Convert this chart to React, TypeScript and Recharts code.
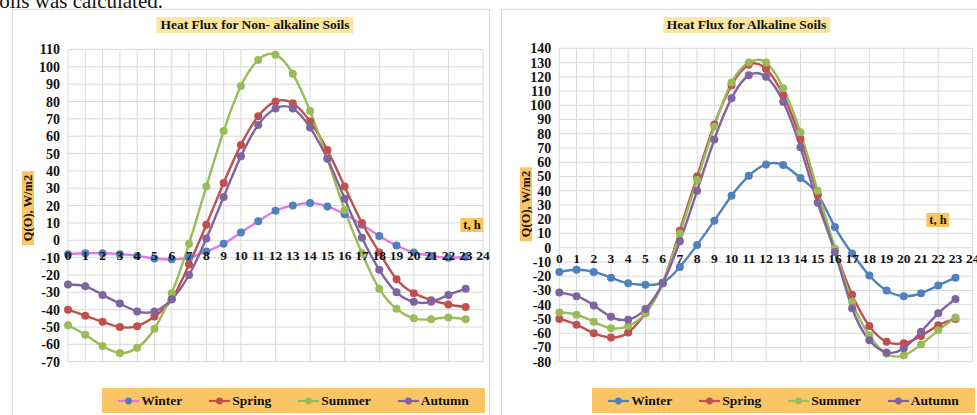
import React from 'react';
import { LineChart, Line, XAxis, YAxis, CartesianGrid, ReferenceDot } from 'recharts';

// ---------- data ----------
const hours = [0, 1, 2, 3, 4, 5, 6, 7, 8, 9, 10, 11, 12, 13, 14, 15, 16, 17, 18, 19, 20, 21, 22, 23];
const hourTicks = [0, 1, 2, 3, 4, 5, 6, 7, 8, 9, 10, 11, 12, 13, 14, 15, 16, 17, 18, 19, 20, 21, 22, 23, 24];
const seriesNames = ['Winter', 'Spring', 'Summer', 'Autumn'];

const nonAlkWinter = [-8, -7.5, -7.5, -8, -9, -10.5, -11, -10, -6.5, -2, 4.5, 11, 17, 20, 21.5, 19.5, 15, 9, 2.5, -3, -7, -9, -10, -9.5];
const nonAlkSpring = [-40, -43.5, -47, -50, -49.5, -44, -34, -14, 9, 33, 55, 71.5, 80, 79, 68.5, 52, 31, 10, -7, -22.5, -30.5, -34.5, -37, -38.5];
const nonAlkSummer = [-49, -54.5, -61, -65, -62, -51, -30.5, -2, 31, 63, 89, 104, 107, 96, 74.5, 47, 17.5, -7.5, -28, -39.5, -45, -45.5, -44.5, -45.5];
const nonAlkAutumn = [-25.5, -26.5, -31.5, -36.5, -41, -41, -34, -20, 1, 25, 48.5, 66.5, 76, 76, 65, 47, 24, 1.5, -17, -30, -35.5, -35.5, -31.5, -28];

const alkWinter = [-17, -15.5, -17, -21, -25, -26, -24.5, -13.5, 2, 19, 36.5, 50.5, 58.5, 58, 49, 37.5, 14.5, -4, -19.5, -30, -34, -32, -26.5, -21];
const alkSpring = [-50, -54, -60, -63, -59.5, -46, -25, 12, 50, 86.5, 114, 128.5, 125.5, 107, 76.5, 37, -1, -33, -55, -66, -67, -62, -54.5, -50];
const alkSummer = [-45.5, -47, -52, -56.5, -55, -46, -25, 10, 47.5, 85, 116, 130, 130, 112, 81, 40, -0.5, -38, -61.5, -74.5, -75.5, -68, -58, -49];
const alkAutumn = [-31.5, -34, -40.5, -48.5, -50.5, -43, -25, 4.5, 40, 76, 105, 121, 120, 102.5, 70.5, 31.5, -3, -42.5, -65, -73.5, -70.5, -59, -46, -36];

const nonAlkTicks = [-70, -60, -50, -40, -30, -20, -10, 0, 10, 20, 30, 40, 50, 60, 70, 80, 90, 100, 110];
const alkTicks = [-80, -70, -60, -50, -40, -30, -20, -10, 0, 10, 20, 30, 40, 50, 60, 70, 80, 90, 100, 110, 120, 130, 140];

// ---------- styles ----------
const BLUE = '#4f81bd';
const RED = '#c0504d';
const GREEN = '#9bbb59';
const PURPLE = '#8064a2';
const PINK = '#e377e3';
const FONT = '"Liberation Serif", "Times New Roman", serif';
const LEGEND_BG = '#fac564';
const TITLE_BG = '#fde6a0';

const buildData = (w: number[], sp: number[], su: number[], au: number[]) =>
  hours.map((h, i) => ({ hour: h, Winter: w[i], Spring: sp[i], Summer: su[i], Autumn: au[i] }));

const nonAlkData = buildData(nonAlkWinter, nonAlkSpring, nonAlkSummer, nonAlkAutumn);
const alkData = buildData(alkWinter, alkSpring, alkSummer, alkAutumn);

type ChartProps = {
  data: any[];
  ticks: number[];
  left: number;
  width: number;
  margin: { top: number; right: number; bottom: number; left: number };
  lineColors: string[];
  markerColors: string[];
  hourLabelDy: number;
};

const HourLabel = (dy: number, text: string) => (props: any) => {
  const vb = props.viewBox || {};
  const x = (vb.x ?? 0) + (vb.width ?? 0) / 2;
  const y = (vb.y ?? 0) + (vb.height ?? 0) + dy;
  return (
    <text x={x} y={y} textAnchor="middle" dominantBaseline="central"
      style={{ fontFamily: FONT, fontSize: 13.5, fontWeight: 'bold', fill: '#111' }}>
      {text}
    </text>
  );
};

const FluxChart = ({ data, ticks, left, width, margin, lineColors, markerColors, hourLabelDy }: ChartProps) => (
  <div style={{ position: 'absolute', left, top: 10 }}>
    <LineChart width={width} height={405} data={data} margin={margin}>
      <CartesianGrid stroke="#d9d9d9" strokeWidth={1} />
      <XAxis dataKey="hour" type="number" domain={[0, 24]} ticks={hourTicks} hide />
      <YAxis type="number" domain={[ticks[0], ticks[ticks.length - 1]]} ticks={ticks} interval={0}
        width={40} axisLine={false} tickLine={false} tickSize={0} tickMargin={8}
        tick={{ fontFamily: FONT, fontSize: 14, fontWeight: 'bold', fill: '#111' }} />
      {seriesNames.map((name, i) => (
        <Line key={name} dataKey={name} type="natural" stroke={lineColors[i]} strokeWidth={2.4}
          dot={{ r: 4, fill: markerColors[i], stroke: markerColors[i], strokeWidth: 0 }}
          activeDot={false} isAnimationActive={false} />
      ))}
      {hourTicks.map((h) => (
        <ReferenceDot key={'h' + h} x={h} y={0} r={0} fill="none" stroke="none"
          label={HourLabel(hourLabelDy, String(h))} />
      ))}
    </LineChart>
  </div>
);

const LegendBox = ({ left, lineColors, markerColors }: { left: number; lineColors: string[]; markerColors: string[] }) => (
  <div style={{
    position: 'absolute', left, top: 388, width: 383, height: 25, background: LEGEND_BG,
    display: 'flex', alignItems: 'center', justifyContent: 'center', gap: 27,
    fontFamily: FONT, fontWeight: 'bold', fontSize: 13.5, color: '#111',
  }}>
    {seriesNames.map((name, i) => (
      <div key={name} style={{ display: 'flex', alignItems: 'center' }}>
        <svg width={21} height={10} style={{ marginRight: 2 }}>
          <line x1={0} y1={5} x2={21} y2={5} stroke={lineColors[i]} strokeWidth={2.2} />
          <circle cx={10.5} cy={5} r={3.4} fill={markerColors[i]} />
        </svg>
        <span>{name}</span>
      </div>
    ))}
  </div>
);

const Title = ({ text, center }: { text: string; center: number }) => (
  <div style={{
    position: 'absolute', top: 17, left: center, transform: 'translateX(-50%)', background: TITLE_BG,
    fontFamily: FONT, fontWeight: 'bold', fontSize: 13.5, lineHeight: '16px', padding: '0 4px',
    whiteSpace: 'nowrap', color: '#111',
  }}>{text}</div>
);

const YLabel = ({ cx, cy }: { cx: number; cy: number }) => (
  <div style={{
    position: 'absolute', left: cx, top: cy, transform: 'translate(-50%, -50%) rotate(-90deg)',
    background: LEGEND_BG, fontFamily: FONT, fontWeight: 'bold', fontSize: 12.5, lineHeight: '12px',
    padding: '0 4px', whiteSpace: 'nowrap', color: '#111',
  }}>Q(O), W/m2</div>
);

const TLabel = ({ cx, cy }: { cx: number; cy: number }) => (
  <div style={{
    position: 'absolute', left: cx, top: cy, transform: 'translate(-50%, -50%)',
    background: LEGEND_BG, fontFamily: FONT, fontWeight: 'bold', fontSize: 12.5, lineHeight: '14px',
    padding: '0 3px', whiteSpace: 'nowrap', color: '#111',
  }}>t, h</div>
);

export default function App() {
  const leftLines = [PINK, RED, GREEN, PURPLE];
  const leftMarkers = [BLUE, RED, GREEN, PURPLE];
  const rightLines = [BLUE, RED, GREEN, PURPLE];
  const rightMarkers = [BLUE, RED, GREEN, PURPLE];
  return (
    <div style={{ position: 'absolute', left: 0, top: 0, width: 977, height: 415, overflow: 'hidden', background: '#fff' }}>
      <div style={{
        position: 'absolute', left: -9, top: -8.6, fontFamily: FONT, fontSize: 21, lineHeight: '21px',
        whiteSpace: 'nowrap', color: '#111',
      }}>soils was calculated.</div>
      <div style={{ position: 'absolute', left: 12, top: 9, width: 476, height: 420, border: '1px solid #d9d9d9' }} />
      <div style={{ position: 'absolute', left: 501, top: 9, width: 480, height: 420, border: '1px solid #d9d9d9' }} />

      <FluxChart data={nonAlkData} ticks={nonAlkTicks} left={12} width={478}
        margin={{ top: 39.5, right: 7, bottom: 53.3, left: 16 }}
        lineColors={leftLines} markerColors={leftMarkers} hourLabelDy={15} />
      <FluxChart data={alkData} ticks={alkTicks} left={502} width={475}
        margin={{ top: 38.3, right: 4.3, bottom: 53.3, left: 17.3 }}
        lineColors={rightLines} markerColors={rightMarkers} hourLabelDy={10.5} />

      <Title text="Heat Flux for Non- alkaline Soils" center={255} />
      <Title text="Heat Flux for Alkaline Soils" center={746.5} />
      <YLabel cx={28} cy={208} />
      <YLabel cx={525.5} cy={203.5} />
      <TLabel cx={472} cy={225} />
      <TLabel cx={938} cy={220} />
      <LegendBox left={102} lineColors={leftLines} markerColors={leftMarkers} />
      <LegendBox left={592} lineColors={rightLines} markerColors={rightMarkers} />
    </div>
  );
}
